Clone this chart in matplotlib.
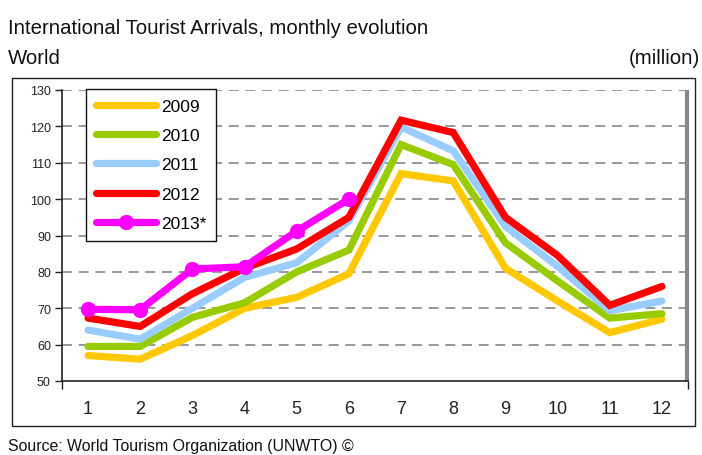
import matplotlib
matplotlib.use("Agg")
import matplotlib.pyplot as plt
from matplotlib.patches import Rectangle

plt.rcParams['font.family'] = ['Liberation Sans', 'DejaVu Sans']

months = list(range(1, 13))
month_labels = [str(m) for m in months]
y_ticks = [50, 60, 70, 80, 90, 100, 110, 120, 130]

arr_2009 = [57, 56, 62.5, 70, 73, 79.5, 107, 105, 81, 72, 63.3, 67]
arr_2010 = [59.5, 59.5, 67.5, 71.5, 80, 86, 115, 109.5, 88, 77.5, 67.3, 68.5]
arr_2011 = [64, 61.5, 70, 78.5, 82.5, 94, 119.8, 113.3, 92.5, 81.5, 69.3, 72]
arr_2012 = [67.3, 65, 74, 81, 86.3, 95, 121.7, 118.3, 95, 84.5, 70.8, 76]
arr_2013 = [69.7, 69.6, 80.8, 81.4, 91.2, 100]

series = [
    ("2009", arr_2009, "#FFC800", None),
    ("2010", arr_2010, "#99CC00", None),
    ("2011", arr_2011, "#99CCFF", None),
    ("2012", arr_2012, "#FF0000", None),
    ("2013*", arr_2013, "#FF00FF", "o"),
]

W, H = 702, 456
fig = plt.figure(figsize=(W / 100, H / 100), dpi=100)

def fx(px):
    return px / W

def fy(py):
    return 1 - py / H

# outer frame
fig.add_artist(Rectangle((fx(12), fy(427)), fx(695) - fx(12), fy(79) - fy(427),
                         transform=fig.transFigure, fill=False, ec="#222222", lw=1.0))

fig.text(fx(8), fy(34), "International Tourist Arrivals, monthly evolution",
         fontsize=14.7, ha="left", va="baseline", color="#111111")
fig.text(fx(8), fy(64), "World", fontsize=14.7, ha="left", va="baseline", color="#111111")
fig.text(fx(700), fy(64), "(million)", fontsize=14.7, ha="right", va="baseline", color="#111111")
fig.text(fx(8), fy(451), "Source: World Tourism Organization (UNWTO) \u00a9",
         fontsize=11.4, ha="left", va="baseline", color="#111111")

ax = fig.add_axes([fx(62), fy(382), fx(688) - fx(62), fy(91) - fy(382)])
ax.set_xlim(0.5, 12.5)
ax.set_ylim(50, 130)

for yv in y_ticks[1:]:
    ax.axhline(yv, color="#888888", lw=1.2, dashes=(6, 4), zorder=1)

for name, vals, col, mk in series:
    xs = months[:len(vals)]
    ax.plot(xs, vals, color=col, lw=5.2, marker=mk, markersize=10 if mk else 0,
            solid_capstyle="round", solid_joinstyle="miter", label=name, zorder=3)

ax.spines["top"].set_visible(False)
ax.spines["right"].set_visible(False)
ax.spines["left"].set_color("#222222")
ax.spines["bottom"].set_color("#222222")
ax.spines["left"].set_linewidth(1.2)
ax.spines["bottom"].set_linewidth(1.2)

# grey shadow bar on right
ax.plot([0.998, 0.998], [0, 1], transform=ax.transAxes, color="#888888", lw=3,
        clip_on=False, zorder=2, solid_capstyle="butt")

ax.set_yticks(y_ticks)
ax.set_yticklabels([str(v) for v in y_ticks], fontsize=9)
ax.tick_params(axis="y", length=5, width=1, pad=3, colors="#222222")
ax.set_xticks(months)
ax.set_xticklabels(month_labels, fontsize=13)
ax.tick_params(axis="x", which="major", length=0, pad=14, colors="#222222")
ax.set_xticks([0.5, 12.5], minor=True)
ax.tick_params(axis="x", which="minor", length=6, width=1, color="#222222")

leg = ax.legend(loc="upper left", bbox_to_anchor=(fx(86), fy(90)),
                bbox_transform=fig.transFigure, borderaxespad=0,
                fontsize=12.5, handlelength=3.5, handletextpad=0.3,
                labelspacing=0.82, borderpad=0.55, fancybox=False,
                frameon=True, edgecolor="#111111")
leg.get_frame().set_linewidth(1.0)
leg.get_frame().set_alpha(1)

fig.savefig("out.png", dpi=100)
